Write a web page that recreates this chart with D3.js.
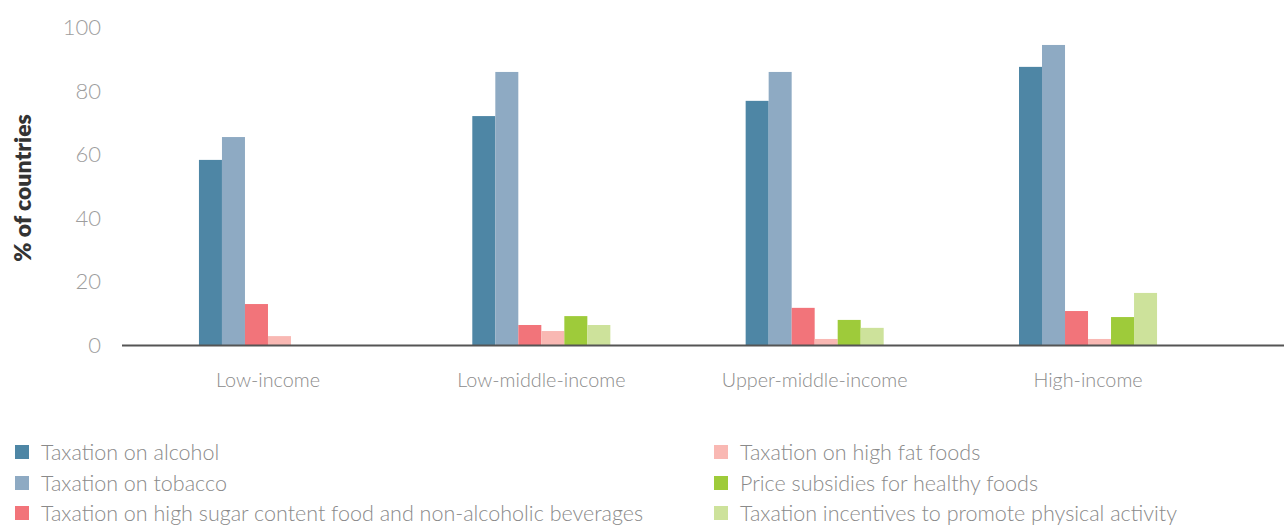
<!DOCTYPE html>
<html>
<head>
<meta charset="utf-8">
<script src="https://cdn.jsdelivr.net/npm/d3@7"></script>
<style>
  html, body { margin: 0; padding: 0; background: #fff; }
  svg { display: block; }
  text { font-family: "Lato", "Open Sans", sans-serif; }
</style>
</head>
<body>
<svg id="chart" width="1284" height="527"></svg>
<script>
// Income groups along the x axis
const categories = ["Low-income", "Low-middle-income", "Upper-middle-income", "High-income"];

// Policy measures (one bar per measure in each group)
const seriesNames = [
  "Taxation on alcohol",
  "Taxation on tobacco",
  "Taxation on high sugar content food and non-alcoholic beverages",
  "Taxation on high fat foods",
  "Price subsidies for healthy foods",
  "Taxation incentives to promote physical activity"
];

// % of countries, by income group
const alcohol  = [58.3, 72.1, 76.9, 87.6];
const tobacco  = [65.5, 86.0, 86.0, 94.5];
const sugar    = [12.9, 6.3, 11.7, 10.7];
const highFat  = [2.8, 4.4, 1.9, 1.9];
const subsidy  = [0, 9.1, 7.9, 8.8];
const activity = [0, 6.3, 5.4, 16.4];

const yTicks = [0, 20, 40, 60, 80, 100];

const colors = ["#4e86a5", "#8eaac3", "#f2747a", "#f9b8b3", "#9ecb3a", "#cde29b"];

const seriesValues = [alcohol, tobacco, sugar, highFat, subsidy, activity];

const svg = d3.select("#chart");

const y = d3.scaleLinear().domain([0, 100]).range([345, 27.5]);

const x0 = d3.scaleBand().domain(categories).range([131.3, 1224.7]).paddingInner(0.495).paddingOuter(0.2475);
const x1 = d3.scaleBand().domain(d3.range(seriesNames.length)).range([0, x0.bandwidth()]).padding(0);

// y tick labels (no axis line)
const yAxis = d3.axisLeft(y).tickValues(yTicks).tickSize(0).tickPadding(0);
const gy = svg.append("g").attr("transform", "translate(101,0)").call(yAxis);
gy.select(".domain").remove();
gy.selectAll("text")
  .style("font-size", "22px")
  .style("font-weight", "300")
  .attr("fill", "#9d9d9d");

// y axis title
svg.append("text")
  .attr("transform", "translate(31,188) rotate(-90)")
  .attr("text-anchor", "middle")
  .style("font-size", "23px")
  .style("font-weight", "800")
  .attr("fill", "#333")
  .text("% of countries");

// bars
const groups = svg.append("g").selectAll("g")
  .data(categories)
  .join("g")
  .attr("transform", d => `translate(${x0(d)},0)`);

groups.selectAll("rect")
  .data((c, ci) => seriesValues.map((vals, si) => ({ si, v: vals[ci] })))
  .join("rect")
  .attr("x", d => x1(d.si))
  .attr("width", x1.bandwidth())
  .attr("y", d => y(d.v))
  .attr("height", d => y(0) - y(d.v))
  .attr("fill", d => colors[d.si]);

// baseline
svg.append("line")
  .attr("x1", 122).attr("x2", 1284)
  .attr("y1", y(0) + 0.5).attr("y2", y(0) + 0.5)
  .attr("stroke", "#555").attr("stroke-width", 2);

// category labels
const xAxis = d3.axisBottom(x0).tickSize(0).tickPadding(0);
const gx = svg.append("g").attr("transform", "translate(0,387)").call(xAxis);
gx.select(".domain").remove();
gx.selectAll("text")
  .attr("dy", 0)
  .style("font-size", "19.8px")
  .style("font-weight", "300")
  .attr("fill", "#8c8c8c");

// legend in two columns
const legendX = [15, 714];
const legendY = [452, 483, 513];
const legend = svg.append("g").selectAll("g")
  .data(seriesNames)
  .join("g")
  .attr("transform", (d, i) => `translate(${legendX[Math.floor(i / 3)]},${legendY[i % 3]})`);

legend.append("rect")
  .attr("x", 0).attr("y", -7)
  .attr("width", 14).attr("height", 14)
  .attr("fill", (d, i) => colors[i]);

legend.append("text")
  .attr("x", 26)
  .attr("dy", "0.35em")
  .style("font-size", "21.5px")
  .style("font-weight", "300")
  .attr("fill", "#8a8a8a")
  .text(d => d);
</script>
</body>
</html>
